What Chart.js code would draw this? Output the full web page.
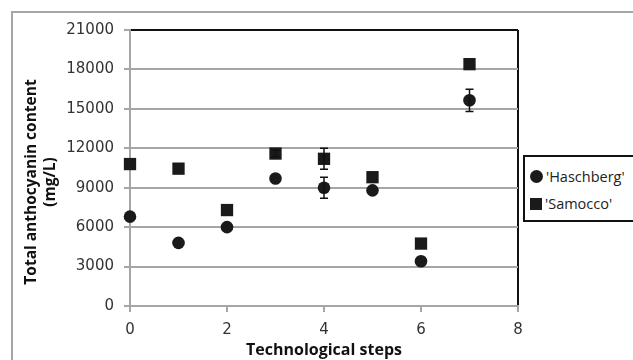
<!DOCTYPE html>
<html>
<head>
<meta charset="utf-8">
<script src="https://cdn.jsdelivr.net/npm/chart.js@4"></script>
<style>
  html, body { margin: 0; padding: 0; background: #fff; }
  body { width: 633px; height: 360px; overflow: hidden; position: relative; }
  #frame { position: absolute; left: 11px; top: 11px; width: 640px; height: 360px;
           border-top: 2px solid #a6a6a6; border-left: 2px solid #a6a6a6; }
  #wrap { position: absolute; left: 0; top: 0; width: 633px; height: 360px; }
  #legend { position: absolute; left: 523px; top: 155px; width: 130px; height: 63px;
            border: 2px solid #111; background: #fff;
            font-family: "Open Sans", sans-serif; font-size: 14.5px; color: #222; }
  #legend .item { position: absolute; left: 5px; display: flex; align-items: center; }
  #legend .mk { display: inline-block; width: 12px; height: 12px; background: #1a1a1a; margin-right: 3px; }
  #legend .circ { border-radius: 50%; width: 13px; height: 13px; }
</style>
</head>
<body>
<div id="frame"></div>
<div id="wrap"><canvas id="chart" width="633" height="360"></canvas></div>
<div id="legend">
  <div class="item" style="top:10px"><span class="mk circ"></span>'Haschberg'</div>
  <div class="item" style="top:37px"><span class="mk"></span>'Samocco'</div>
</div>
<script>
const steps = [0, 1, 2, 3, 4, 5, 6, 7];
const haschberg = [6800, 4800, 6000, 9700, 9000, 8800, 3400, 15650];
const haschbergErr = [0, 0, 0, 0, 800, 0, 0, 850];
const samocco = [10800, 10450, 7300, 11600, 11200, 9800, 4750, 18400];
const samoccoErr = [0, 0, 0, 250, 800, 0, 0, 0];
const xTicks = [0, 2, 4, 6, 8];
const yTicks = [0, 3000, 6000, 9000, 12000, 15000, 18000, 21000];

const GRID = '#a6a6a6';
const TICK_FONT = { family: "'DejaVu Sans', Verdana, sans-serif", size: 15 };

const errorBars = {
  id: 'errorBars',
  afterDatasetsDraw(chart) {
    const { ctx, scales: { x, y } } = chart;
    ctx.save();
    ctx.strokeStyle = '#111';
    ctx.lineWidth = 1.5;
    chart.data.datasets.forEach(ds => {
      ds.data.forEach((pt, i) => {
        const e = ds.errors[i];
        if (!e) return;
        const px = x.getPixelForValue(pt.x);
        const top = y.getPixelForValue(pt.y + e);
        const bot = y.getPixelForValue(pt.y - e);
        ctx.beginPath();
        ctx.moveTo(px, top); ctx.lineTo(px, bot);
        ctx.moveTo(px - 4, top); ctx.lineTo(px + 4, top);
        ctx.moveTo(px - 4, bot); ctx.lineTo(px + 4, bot);
        ctx.stroke();
      });
    });
    ctx.restore();
  }
};

// y title drawn a bit below the plot centre, as in the original
const yTitle = {
  id: 'yTitle',
  afterDraw(chart) {
    const { ctx } = chart;
    ctx.save();
    ctx.translate(0, 182);
    ctx.rotate(-Math.PI / 2);
    ctx.font = 'bold 15.5px "Open Sans"';
    ctx.fillStyle = '#111';
    ctx.textAlign = 'center';
    ctx.textBaseline = 'middle';
    ctx.fillText('Total anthocyanin content', 0, 32);
    ctx.fillText('(mg/L)', 0, 51);
    ctx.restore();
  }
};

const toPoints = (vals) => vals.map((v, i) => ({ x: steps[i], y: v }));

new Chart(document.getElementById('chart'), {
  type: 'scatter',
  data: {
    datasets: [
      {
        label: "'Haschberg'",
        data: toPoints(haschberg),
        errors: haschbergErr,
        pointStyle: 'circle',
        pointRadius: 6.3,
        backgroundColor: '#1a1a1a',
        borderColor: '#1a1a1a',
        borderWidth: 0,
        clip: false
      },
      {
        label: "'Samocco'",
        data: toPoints(samocco),
        errors: samoccoErr,
        pointStyle: 'rect',
        pointRadius: 8.7,
        backgroundColor: '#1a1a1a',
        borderColor: '#1a1a1a',
        borderWidth: 0,
        clip: false
      }
    ]
  },
  options: {
    responsive: false,
    animation: false,
    layout: { padding: { left: 12, right: 115, top: 30, bottom: 0 } },
    plugins: { legend: { display: false }, tooltip: { enabled: false } },
    scales: {
      x: {
        type: 'linear',
        min: 0, max: 8,
        afterBuildTicks: s => { s.ticks = xTicks.map(v => ({ value: v })); },
        afterFit: s => { s.height = 54; },
        ticks: { font: TICK_FONT, color: '#333', padding: 9, callback: v => String(v) },
        grid: {
          color: c => (c.tick && c.tick.value === 8 ? '#111' : 'rgba(0,0,0,0)'),
          lineWidth: 2,
          tickColor: GRID,
          tickLength: 6
        },
        border: { color: GRID, width: 2 },
        title: {
          display: true,
          text: 'Technological steps',
          font: { family: 'Open Sans', size: 16, weight: 'bold' },
          color: '#111',
          padding: { top: 0, bottom: 0 }
        }
      },
      y: {
        min: 0, max: 21000,
        afterBuildTicks: s => { s.ticks = yTicks.map(v => ({ value: v })); },
        afterFit: s => { s.width = 118; },
        ticks: { font: TICK_FONT, color: '#333', padding: 10, callback: v => String(v) },
        grid: {
          color: c => (c.tick && c.tick.value === 21000 ? '#111' : GRID),
          lineWidth: 2,
          tickColor: GRID,
          tickLength: 6
        },
        border: { color: GRID, width: 2 }
      }
    }
  },
  plugins: [errorBars, yTitle]
});
</script>
</body>
</html>
